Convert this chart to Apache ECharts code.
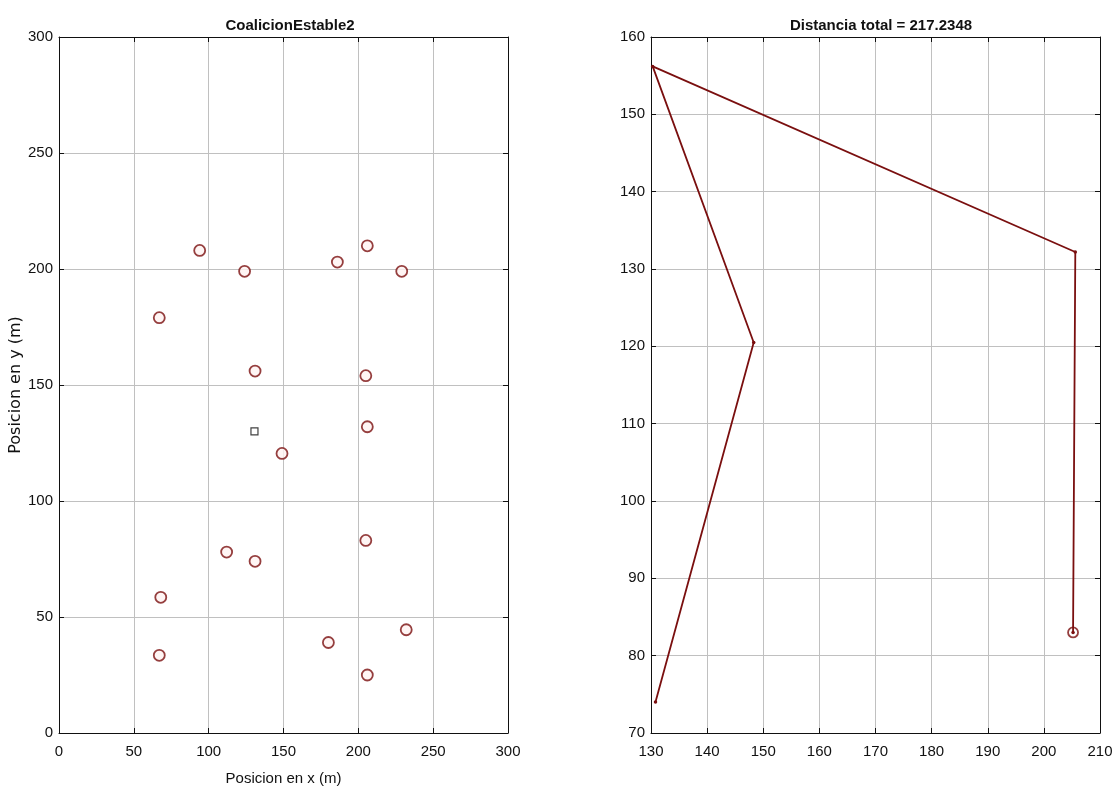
<!DOCTYPE html>
<html>
<head>
<meta charset="utf-8">
<title>CoalicionEstable2</title>
<script src="https://cdn.jsdelivr.net/npm/echarts@6/dist/echarts.min.js"></script>
<style>
  html, body { margin: 0; padding: 0; background: #fff; }
  #main { width: 1120px; height: 791px; }
</style>
</head>
<body>
<div id="main"></div>
<script>
// nodos (circulos) del grafico izquierdo
const nodeX = [94, 124, 67, 186, 206, 229, 131, 205, 206, 149, 205, 112, 131, 68, 67, 180, 232, 206];
const nodeY = [208, 199, 179, 203, 210, 199, 156, 154, 132, 120.5, 83, 78, 74, 58.5, 33.5, 39, 44.5, 25];
// base (cuadrado)
const baseX = [130.6];
const baseY = [130];
// ruta del grafico derecho
const routeX = [130.8, 148.3, 130.3, 205.6, 205.2];
const routeY = [74, 120.5, 156.2, 132.2, 83];

const leftTicks = [0, 50, 100, 150, 200, 250, 300];
const rightXTicks = [130, 140, 150, 160, 170, 180, 190, 200, 210];
const rightYTicks = [70, 80, 90, 100, 110, 120, 130, 140, 150, 160];

const font = '"Liberation Sans Narrow", "Liberation Sans", Arial, sans-serif';
const red = '#7a0f0f';

const pairs = (xs, ys) => xs.map((x, i) => [x, ys[i]]);

const mkAxis = (gridIndex, range, step, opts = {}) => ({
    type: 'value',
    gridIndex,
    min: range[0],
    max: range[range.length - 1],
    interval: step,
    axisLine: { show: true, onZero: false, lineStyle: { color: '#111', width: 1 } },
    axisTick: { show: true, inside: true, length: 5, lineStyle: { color: '#111' } },
    splitLine: { show: opts.split !== false, lineStyle: { color: '#c0c0c0', width: 1 } },
    axisLabel: opts.noLabel ? { show: false } : {
        color: '#111', fontFamily: font, fontSize: 15, margin: opts.margin || 6
    },
    ...opts.extra
});

const chart = echarts.init(document.getElementById('main'));
chart.setOption({
    animation: false,
    backgroundColor: '#fff',
    title: [
        { text: 'CoalicionEstable2', left: 285, top: 13, textAlign: 'center',
          textStyle: { fontFamily: font, fontSize: 15, fontWeight: 'bold', color: '#111' } },
        { text: 'Distancia total = 217.2348', left: 876, top: 13, textAlign: 'center',
          textStyle: { fontFamily: font, fontSize: 15, fontWeight: 'bold', color: '#111' } }
    ],
    grid: [
        { left: 59, right: 612, top: 37, bottom: 58 },
        { left: 651, right: 20, top: 37, bottom: 58 }
    ],
    xAxis: [
        mkAxis(0, leftTicks, 50, { margin: 11, extra: {
            position: 'bottom',
            name: 'Posicion en x (m)', nameLocation: 'middle', nameGap: 38,
            nameTextStyle: { fontFamily: font, fontSize: 15, color: '#111' }
        } }),
        mkAxis(0, leftTicks, 50, { noLabel: true, split: false, extra: { position: 'top' } }),
        mkAxis(1, rightXTicks, 10, { margin: 11, extra: { position: 'bottom' } }),
        mkAxis(1, rightXTicks, 10, { noLabel: true, split: false, extra: { position: 'top' } })
    ],
    yAxis: [
        mkAxis(0, leftTicks, 50, { extra: {
            position: 'left',
            name: 'Posicion en y (m)', nameLocation: 'middle', nameGap: 34,
            nameTextStyle: { fontFamily: 'DejaVu Sans', fontSize: 16, color: '#111' }
        } }),
        mkAxis(0, leftTicks, 50, { noLabel: true, split: false, extra: { position: 'right' } }),
        mkAxis(1, rightYTicks, 10, { extra: { position: 'left' } }),
        mkAxis(1, rightYTicks, 10, { noLabel: true, split: false, extra: { position: 'right' } })
    ],
    series: [
        {
            type: 'scatter', xAxisIndex: 0, yAxisIndex: 0,
            data: pairs(nodeX, nodeY),
            symbol: 'circle', symbolSize: 11,
            itemStyle: { color: '#fff3f1', borderColor: red, borderWidth: 1.8 }
        },
        {
            type: 'scatter', xAxisIndex: 0, yAxisIndex: 0,
            data: pairs(baseX, baseY),
            symbol: 'rect', symbolSize: 7,
            itemStyle: { color: '#fff', borderColor: '#111', borderWidth: 1.2 }
        },
        {
            type: 'line', xAxisIndex: 2, yAxisIndex: 2,
            data: pairs(routeX, routeY),
            symbol: 'circle', symbolSize: 3.5, showSymbol: true,
            lineStyle: { color: red, width: 1.8 },
            itemStyle: { color: red }
        },
        {
            type: 'scatter', xAxisIndex: 2, yAxisIndex: 2,
            data: pairs(routeX.slice(-1), routeY.slice(-1)),
            symbol: 'circle', symbolSize: 10,
            itemStyle: { color: 'rgba(255,255,255,0)', borderColor: red, borderWidth: 1.8 }
        }
    ]
});
</script>
</body>
</html>
